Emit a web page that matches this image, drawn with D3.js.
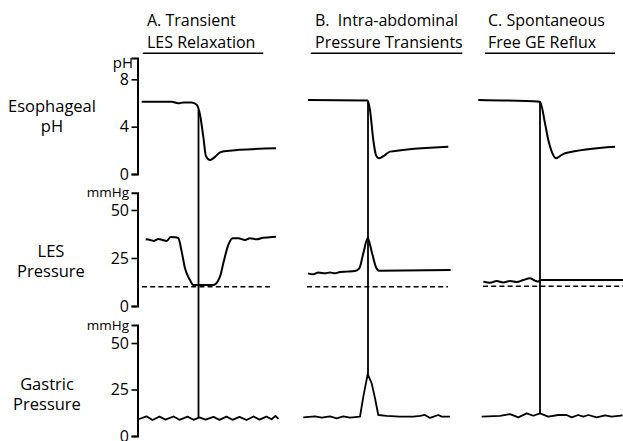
<!DOCTYPE html>
<html>
<head>
<meta charset="utf-8">
<script src="https://cdn.jsdelivr.net/npm/d3@7"></script>
<style>
  html, body { margin: 0; padding: 0; background: #fff; }
  svg { display: block; font-family: "Open Sans", sans-serif; }
</style>
</head>
<body>
<svg id="chart" width="623" height="441"></svg>
<script>
// ---------------- DATA ----------------
const panelTitles = [
  ["A. Transient", "LES Relaxation"],
  ["B.  Intra-abdominal", "Pressure Transients"],
  ["C. Spontaneous", "Free GE Reflux"]
];
const rowLabels = [["Esophageal", "pH"], ["LES", "Pressure"], ["Gastric", "Pressure"]];
const phTicks = [0, 4, 8];
const pressureTicks = [0, 25, 50];
const phUnit = "pH";
const pressureUnit = "mmHg";
const refluxTime = [60, 60, 60];      // time of the reflux event in each panel
const lesThreshold = [10, 10, 10.3];  // dashed reference (gastric pressure level)

// Esophageal pH  [time, pH]
const phA = [[3.2,6.1],[33.2,6.1],[39.8,5.97],[45,6.05],[53.2,6.05],[58.2,5.85],[61.5,5.0],[64.8,3.15],[67.5,1.5],[71.5,1.18],[76.5,1.45],[81.5,1.83],[88,1.95],[137.5,2.17]];
const phB = [[0,6.25],[59.7,6.22],[62,5.4],[65.3,2.87],[68,1.6],[71,1.33],[77,1.6],[82,1.89],[140.3,2.31]];
const phC = [[-1.7,6.26],[60,6.11],[65,4.29],[68.3,2.87],[71.7,1.89],[76,1.33],[80,1.52],[85,1.75],[135,2.31]];

// LES pressure [time, mmHg]
const lesA = [[7.2,34.7],[11.5,34.4],[15.5,33.9],[19.8,34.9],[23.8,34.4],[28.2,33.9],[32.2,35.9],[36.5,35.8],[39.8,35.3],[43.2,28.3],[46.5,19.6],[51.5,13.5],[54.8,10.9],[74.8,10.9],[81.5,15.3],[84.8,22.2],[89.8,31.8],[94.2,35.3],[99.8,35.3],[106.5,34.4],[111.5,35.3],[118.2,34.7],[124.8,35.6],[131.5,35.8],[137.5,36.1]];
const lesB = [[0,17.0],[5.3,16.5],[10.3,17.4],[17,17.0],[22,17.5],[27,17.0],[32,17.7],[38.7,17.9],[47,18.2],[51.3,19.6],[55.3,27.4],[59.7,35.3],[63.7,28.3],[68,20.2],[71,18.4],[142.7,18.75]];
const lesC = [[3.3,12.7],[10,12.1],[16.7,13.0],[23.3,12.3],[30,13.0],[36.7,12.5],[43.3,13.5],[50,14.4],[55,13.2],[58.3,12.7],[60.7,13.5],[143.3,13.5]];

// Gastric pressure [time, mmHg]
const gasA = [[0,9.0],[8,10.6],[14,8.6],[21,10.4],[27,8.8],[35,10.5],[41,8.7],[49,10.4],[55,8.7],[61,10.0],[67,8.8],[75,10.3],[81,8.7],[88,10.4],[94,8.7],[101,10.3],[108,8.6],[115,10.5],[121,8.8],[128,10.4],[133,9.0],[137,10.8],[140,9.2]];
const gasB = [[-4.7,10.0],[7,10.6],[13.7,9.9],[22,10.6],[28.7,9.5],[35.3,10.6],[42,9.9],[52,10.4],[55.3,21.1],[59.7,33.3],[63.7,28.3],[67,20.3],[70.3,11.3],[78.7,10.8],[92,10.4],[105.3,10.4],[112,10.8],[117,11.3],[122,9.7],[130.3,11.3],[133.7,10.4],[142,10.4]];
const gasC = [[1.7,10.4],[20,10.8],[30,11.8],[38.3,10.0],[46.7,12.2],[53.3,10.9],[60,12.2],[68.3,10.4],[78.3,11.3],[86.7,11.3],[91.7,10.0],[98.3,11.3],[103.3,10.4],[108.3,11.3],[116.7,10.0],[125,11.1],[131.7,10.4],[142.7,11.1]];

const phSeries = [phA, phB, phC];
const lesSeries = [lesA, lesB, lesC];
const gasSeries = [gasA, gasB, gasC];

// ---------------- LAYOUT ----------------
const svg = d3.select("#chart");
const axisX = 137.5;
const panelOrigins = [138.5, 308, 480];
const panelSpan = 140;
const dashExtent = [[3.5, 134.5], [-1, 140], [3, 143]];
const titleX = [147, 315, 488];
const ruleExtent = [[142.7, 263.3], [310.7, 462.3], [485, 615]];

const yPH  = d3.scaleLinear().domain([0, 9.8]).range([174, 58]);
const yLES = d3.scaleLinear().domain([0, 59]).range([306, 192.7]);
const yGas = d3.scaleLinear().domain([0, 59.7]).range([436, 325]);

const xScales = panelOrigins.map(o => d3.scaleLinear().domain([0, panelSpan]).range([o, o + panelSpan]));

// ---------------- AXES ----------------
function drawAxis(scale, ticks, unit, unitSize, unitX, unitY) {
  const g = svg.append("g").attr("transform", `translate(${axisX},0)`)
    .call(d3.axisLeft(scale).tickValues(ticks).tickSizeOuter(0).tickSize(6).tickPadding(2.5).tickFormat(d3.format("d")));
  g.select(".domain").attr("stroke", "#000").attr("stroke-width", 2);
  g.selectAll(".tick line").attr("stroke", "#000").attr("stroke-width", 1.6);
  g.selectAll(".tick text").attr("font-size", 16).attr("font-family", "Open Sans").attr("fill", "#000");
  svg.append("text").attr("x", unitX).attr("y", unitY).attr("text-anchor", "end")
    .attr("font-size", unitSize).text(unit);
}
drawAxis(yPH, phTicks, phUnit, 15, 133, 67.5);
drawAxis(yLES, pressureTicks, pressureUnit, 13.5, 129, 196.5);
drawAxis(yGas, pressureTicks, pressureUnit, 13.5, 129, 329.5);

// ---------------- ROW LABELS ----------------
const rowLabelPos = [[52, 111.7, 131.7], [51, 256.5, 276.5], [47, 390, 410]];
rowLabels.forEach((lines, i) => {
  lines.forEach((t, j) => {
    svg.append("text").attr("x", rowLabelPos[i][0]).attr("y", rowLabelPos[i][1 + j])
      .attr("text-anchor", "middle").attr("font-size", 16.5).text(t);
  });
});

// ---------------- TITLES ----------------
panelTitles.forEach((lines, i) => {
  svg.append("text").attr("x", titleX[i]).attr("y", 26).attr("font-size", 16).attr("xml:space", "preserve").style("white-space", "pre").text(lines[0]);
  svg.append("text").attr("x", titleX[i]).attr("y", 47.5).attr("font-size", 16).text(lines[1]);
  svg.append("line").attr("x1", ruleExtent[i][0]).attr("x2", ruleExtent[i][1])
    .attr("y1", 53.3).attr("y2", 53.3).attr("stroke", "#000").attr("stroke-width", 1.6);
});

// ---------------- TRACES ----------------
function interp(series, t) {
  for (let k = 0; k < series.length - 1; k++) {
    const a = series[k], b = series[k + 1];
    if (t >= a[0] && t <= b[0]) return a[1] + (b[1] - a[1]) * (t - a[0]) / (b[0] - a[0]);
  }
  return series[series.length - 1][1];
}

for (let i = 0; i < 3; i++) {
  const x = xScales[i];
  const smooth = (ys) => d3.line().x(d => x(d[0])).y(d => ys(d[1])).curve(d3.curveMonotoneX);
  const linear = (ys) => d3.line().x(d => x(d[0])).y(d => ys(d[1]));

  // dashed reference line
  svg.append("line")
    .attr("x1", x(dashExtent[i][0])).attr("x2", x(dashExtent[i][1]))
    .attr("y1", yLES(lesThreshold[i])).attr("y2", yLES(lesThreshold[i]))
    .attr("stroke", "#000").attr("stroke-width", 1.6).attr("stroke-dasharray", "5,3.2");

  // vertical reflux event line
  const te = refluxTime[i];
  svg.append("line")
    .attr("x1", x(te)).attr("x2", x(te))
    .attr("y1", yPH(interp(phSeries[i], te))).attr("y2", yGas(interp(gasSeries[i], te)))
    .attr("stroke", "#000").attr("stroke-width", 1.8);

  svg.append("path").datum(phSeries[i]).attr("d", smooth(yPH))
    .attr("fill", "none").attr("stroke", "#000").attr("stroke-width", 2);
  svg.append("path").datum(lesSeries[i]).attr("d", smooth(yLES))
    .attr("fill", "none").attr("stroke", "#000").attr("stroke-width", 2);
  svg.append("path").datum(gasSeries[i]).attr("d", linear(yGas))
    .attr("fill", "none").attr("stroke", "#000").attr("stroke-width", 1.8).attr("stroke-linejoin", "round");
}
</script>
</body>
</html>
